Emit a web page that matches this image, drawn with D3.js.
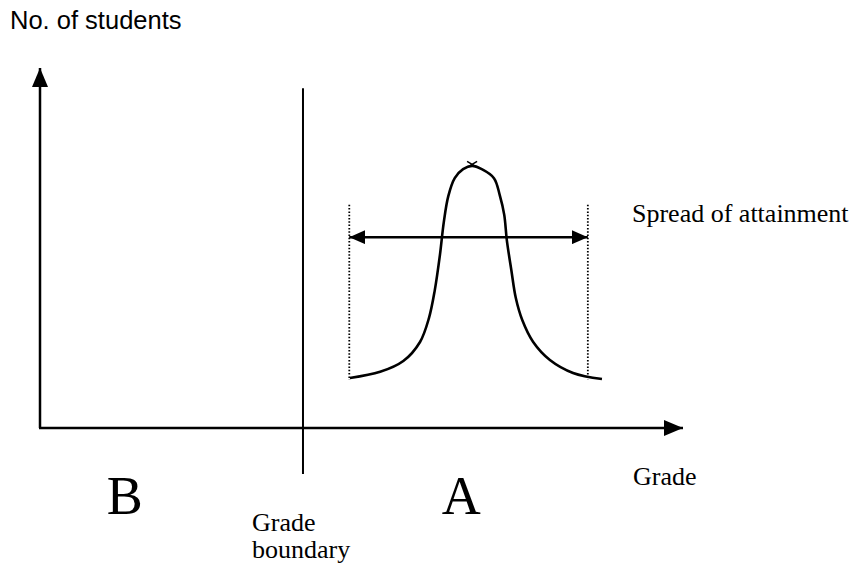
<!DOCTYPE html>
<html>
<head>
<meta charset="utf-8">
<script src="https://cdn.jsdelivr.net/npm/d3@7"></script>
<style>
  body { margin: 0; background: #fff; }
  svg { display: block; }
</style>
</head>
<body>
<div id="chart"></div>
<script>
// schematic data, in grade / count units (0..100)
const curveGrade = [48.2, 52.9, 56.5, 59.1, 60.5, 61.4, 62.2, 62.8, 63.5, 64.5, 65.8, 67.2, 68.7, 70.6, 71.5, 72.2, 72.6, 73.3, 74.0, 75.0, 76.7, 79.3, 82.9, 87.4];
const curveCount = [13.9, 15.6, 18.6, 23.9, 30.6, 38.3, 48.1, 57.2, 64.4, 69.4, 71.9, 72.8, 71.9, 69.4, 64.7, 59.2, 52.2, 43.9, 36.1, 30.0, 23.9, 18.9, 15.3, 13.6];
const boundaryGrade = 40.9;
const boundaryRange = [94.4, -12.8];
const spreadGrades = [48.1, 85.2];
const spreadCount = 53;
const spreadDotted = [62, 13.3];
const peak = [67.2, 73.2];
const gradeLetters = ["B", "A"];
const gradeLetterPos = [13.2, 65.5];

const width = 857, height = 571;
const x = d3.scaleLinear().domain([0, 100]).range([40, 683]);
const y = d3.scaleLinear().domain([0, 100]).range([428, 68]);

const svg = d3.select("#chart").append("svg")
    .attr("width", width)
    .attr("height", height);

const defs = svg.append("defs");
function marker(id, w, h) {
  defs.append("marker")
      .attr("id", id)
      .attr("viewBox", `0 0 ${w} ${h}`)
      .attr("refX", w).attr("refY", h / 2)
      .attr("markerWidth", w).attr("markerHeight", h)
      .attr("markerUnits", "userSpaceOnUse")
      .attr("orient", "auto-start-reverse")
    .append("path")
      .attr("d", `M0,0L${w},${h / 2}L0,${h}Z`)
      .attr("fill", "#000");
}
marker("axisHead", 19, 16);
marker("spreadHead", 16, 14);

// axes
svg.append("line")
    .attr("x1", x(0)).attr("y1", y(0))
    .attr("x2", x(0)).attr("y2", y(100))
    .attr("stroke", "#000").attr("stroke-width", 2.5)
    .attr("marker-end", "url(#axisHead)");
svg.append("line")
    .attr("x1", x(0) - 1).attr("y1", y(0))
    .attr("x2", x(100)).attr("y2", y(0))
    .attr("stroke", "#000").attr("stroke-width", 2.5)
    .attr("marker-end", "url(#axisHead)");

// grade boundary
svg.append("line")
    .attr("x1", x(boundaryGrade)).attr("y1", y(boundaryRange[0]))
    .attr("x2", x(boundaryGrade)).attr("y2", y(boundaryRange[1]))
    .attr("stroke", "#000").attr("stroke-width", 2);

// dotted spread limits
spreadGrades.forEach(g => {
  svg.append("line")
      .attr("x1", x(g)).attr("y1", y(spreadDotted[0]))
      .attr("x2", x(g)).attr("y2", y(spreadDotted[1]))
      .attr("stroke", "#000").attr("stroke-width", 1.8)
      .attr("stroke-dasharray", "1.5,1.8");
});

// distribution curve
const pts = curveGrade.map((g, i) => [g, curveCount[i]]);
const line = d3.line().x(d => x(d[0])).y(d => y(d[1])).curve(d3.curveCatmullRom);
svg.append("path")
    .attr("d", line(pts))
    .attr("fill", "none")
    .attr("stroke", "#000")
    .attr("stroke-width", 2.6);

// small cross at the peak
const cx = x(peak[0]), cy = y(peak[1]);
svg.append("path")
    .attr("d", `M${cx - 5},${cy - 3}L${cx + 5},${cy + 3}M${cx - 5},${cy + 3}L${cx + 5},${cy - 3}`)
    .attr("stroke", "#000").attr("stroke-width", 1.5).attr("fill", "none");

// spread double arrow
svg.append("line")
    .attr("x1", x(spreadGrades[0])).attr("y1", y(spreadCount))
    .attr("x2", x(spreadGrades[1])).attr("y2", y(spreadCount))
    .attr("stroke", "#000").attr("stroke-width", 2.5)
    .attr("marker-start", "url(#spreadHead)")
    .attr("marker-end", "url(#spreadHead)");

// labels
const serif = "'Liberation Serif', 'Times New Roman', serif";
svg.append("text")
    .attr("x", 10).attr("y", 29)
    .style("font-family", "'Liberation Sans', Arial, sans-serif")
    .style("font-size", "25.5px")
    .text("No. of students");

svg.append("text")
    .attr("x", 632).attr("y", 222)
    .style("font-family", serif).style("font-size", "26px")
    .text("Spread of attainment");

svg.append("text")
    .attr("x", 633).attr("y", 485)
    .style("font-family", serif).style("font-size", "26px")
    .text("Grade");

svg.append("text")
    .attr("x", 252).attr("y", 531)
    .style("font-family", serif).style("font-size", "26px")
    .text("Grade");
svg.append("text")
    .attr("x", 252).attr("y", 558)
    .style("font-family", serif).style("font-size", "26px")
    .text("boundary");

svg.selectAll("text.grade")
  .data(gradeLetters)
  .join("text")
    .attr("class", "grade")
    .attr("x", (d, i) => x(gradeLetterPos[i]))
    .attr("y", 514)
    .attr("text-anchor", "middle")
    .style("font-family", serif).style("font-size", "54px")
    .text(d => d);
</script>
</body>
</html>
